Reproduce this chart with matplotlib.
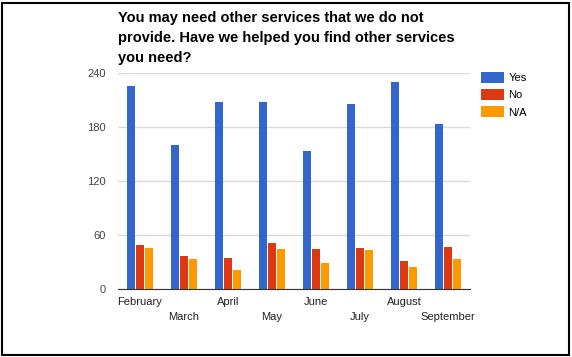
import numpy as np
import matplotlib.pyplot as plt
from matplotlib.patches import Rectangle

plt.rcParams['font.family'] = ['Liberation Sans', 'DejaVu Sans']

# dados
meses = ['February', 'March', 'April', 'May', 'June', 'July', 'August', 'September']
yes = [226, 160, 208, 208, 153, 206, 230, 183]
no = [49, 37, 35, 51, 44, 46, 31, 47]
na = [46, 33, 21, 45, 29, 43, 24, 33]
series = ['Yes', 'No', 'N/A']
cores = ['#3366cc', '#dc3912', '#ff9900']
yticks = [0, 60, 120, 180, 240]

fig = plt.figure(figsize=(5.72, 3.57), dpi=100)
ax = fig.add_axes([118/572, 1 - 289/357, 352/572, 216/357])

x = np.arange(len(meses))
w = 0.19
for i, (vals, c, nome) in enumerate(zip([yes, no, na], cores, series)):
    ax.bar(x + (i - 1) * (w + 0.01), vals, w, color=c, label=nome, zorder=3)

ax.set_xlim(-0.5, len(meses) - 0.5)
ax.set_ylim(0, 240)
ax.set_yticks(yticks)
ax.set_yticklabels([str(t) for t in yticks], fontsize=8, color='#444444')
ax.tick_params(axis='y', length=0, pad=9)
ax.grid(axis='y', color='#d9d9d9', linewidth=1, zorder=0)
for s in ['left', 'right', 'top']:
    ax.spines[s].set_visible(False)
ax.spines['bottom'].set_color('#333333')
ax.spines['bottom'].set_zorder(4)

# rotulos do eixo x em duas linhas alternadas
ax.set_xticks(x)
ax.set_xticklabels([])
ax.tick_params(axis='x', length=0)
for i, m in enumerate(meses):
    dy = -13 if i % 2 == 0 else -28
    ax.annotate(m, (x[i], 0), xytext=(0, dy), textcoords='offset pixels',
                ha='center', va='center', fontsize=8, color='#222222',
                annotation_clip=False)

# titulo
fig.text(118/572, 1 - 11/357,
         'You may need other services that we do not\n'
         'provide. Have we helped you find other services\n'
         'you need?',
         ha='left', va='top', fontsize=10.5, fontweight='bold', linespacing=1.55)

# legenda
fig.legend(*ax.get_legend_handles_labels(), loc='upper left',
           bbox_to_anchor=(481/572, 1 - 72/357), bbox_transform=fig.transFigure,
           frameon=False, fontsize=8, handlelength=2.1, handleheight=1.1,
           handletextpad=0.35, labelspacing=0.55, borderpad=0, borderaxespad=0)

# moldura
fig.patches.append(Rectangle((2/572, 2/357), 567/572, 352/357, transform=fig.transFigure,
                             fill=False, edgecolor='black', linewidth=1.5))

fig.savefig('out.png', dpi=100)
